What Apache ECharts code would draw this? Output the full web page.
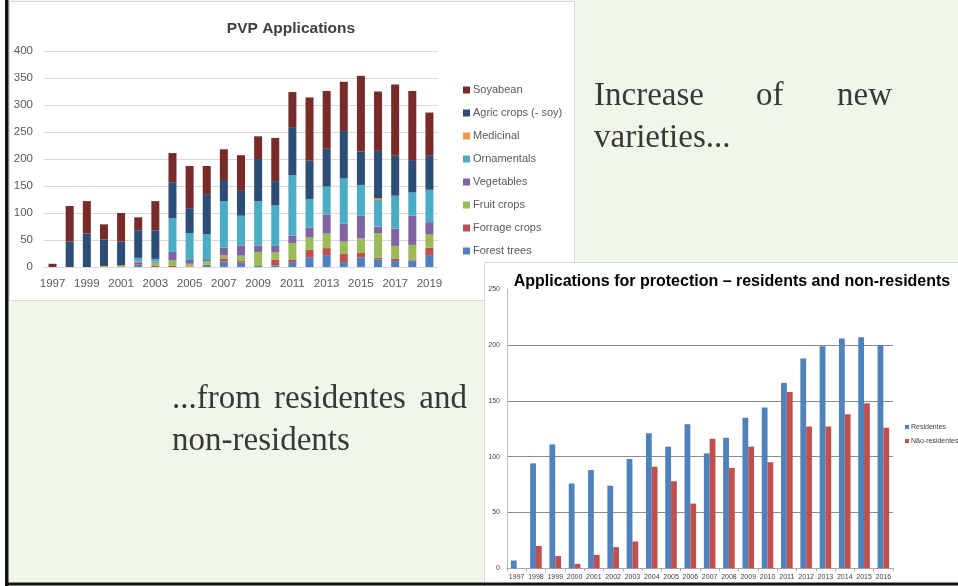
<!DOCTYPE html>
<html><head><meta charset="utf-8">
<script src="https://cdn.jsdelivr.net/npm/echarts@6/dist/echarts.min.js"></script>
<style>html,body{margin:0;padding:0;background:#fff}#c{width:958px;height:586px}</style>
</head><body><div id="c"></div>
<script>
// ---- Chart 1: PVP Applications (stacked) ----
const years1 = ['1997','1998','1999','2000','2001','2002','2003','2004','2005','2006','2007','2008','2009','2010','2011','2012','2013','2014','2015','2016','2017','2018','2019'];
const forestTrees  = [0,0,0,0,0,5,0,0,0,4,10,8,2,3,9,18,22,9,18,14,11,12,22];
const forrageCrops = [0,0,0,0,0,3,2,2,1,0,6,3,0,11,4,14,13,15,8,3,5,2,14];
const fruitCrops   = [0,0,0,2,3,0,6,10,5,7,6,10,26,13,31,23,27,23,27,46,23,27,24];
const vegetables   = [0,0,0,0,0,2,2,16,7,2,14,19,12,12,14,18,35,33,42,12,32,54,23];
const ornamentals  = [0,0,0,0,0,7,5,62,50,48,86,55,82,75,112,53,52,84,57,49,61,43,60];
const medicinal    = [0,0,0,0,0,0,0,0,0,0,0,0,0,0,0,0,0,0,0,3,0,0,0];
const agricCrops   = [0,47,62,49,44,51,53,67,46,74,39,46,78,45,89,71,70,88,62,88,74,60,63];
const soyabean     = [6,66,60,28,53,24,54,54,78,52,57,66,42,80,65,117,107,91,140,110,132,128,80];
const yTicks1 = [0,50,100,150,200,250,300,350,400];

// ---- Chart 2: residents / non-residents ----
const years2 = ['1997','1998','1999','2000','2001','2002','2003','2004','2005','2006','2007','2008','2009','2010','2011','2012','2013','2014','2015','2016'];
const residentes    = [7,94,111,76,88,74,98,121,109,129,103,117,135,144,166,188,199,206,207,200];
const naoResidentes = [0,20,11,4,12,19,24,91,78,58,116,90,109,95,158,127,127,138,148,126];
const yTicks2 = [0,50,100,150,200,250];

const chart = echarts.init(document.getElementById('c'), null, {renderer:'canvas'});
const sansF = '"Liberation Sans", Arial, sans-serif';
const serifF = '"Liberation Serif", "Times New Roman", serif';

const s1 = [
  ['Forest trees', forestTrees, '#4F81BD'],
  ['Forrage crops', forrageCrops, '#C0504D'],
  ['Fruit crops', fruitCrops, '#9BBB59'],
  ['Vegetables', vegetables, '#8064A2'],
  ['Ornamentals', ornamentals, '#4BACC6'],
  ['Medicinal', medicinal, '#F79646'],
  ['Agric crops (- soy)', agricCrops, '#2C4D75'],
  ['Soyabean', soyabean, '#772C2A']
].map(([name, data, color]) => ({
  name, type:'bar', stack:'pvp', data, xAxisIndex:0, yAxisIndex:0,
  barWidth:8, itemStyle:{color}, emphasis:{disabled:true}
}));

const txt = (text, x, y, align) => ({
  type:'text', x, y, z:5,
  style:{text, fill:'#383838', font:'33px ' + serifF, textAlign:align||'left', textVerticalAlign:'middle'}
});

const option = {
  animation:false,
  backgroundColor:'#ffffff',
  textStyle:{fontFamily:sansF},
  graphic:{elements:[
    {type:'rect', shape:{x:8, y:0, width:950, height:583}, style:{fill:'#f0f6e9'}, z:-20},
    {type:'rect', shape:{x:9.5, y:1.5, width:565, height:299}, style:{fill:'#ffffff', stroke:'#d9d9d9', lineWidth:1}, z:-19},
    {type:'rect', shape:{x:484.5, y:262.5, width:480, height:330}, style:{fill:'#ffffff', stroke:'#d9d9d9', lineWidth:1}, z:-18},
    {type:'rect', shape:{x:5, y:0, width:3.5, height:586}, style:{fill:'#111'}, z:10},
    {type:'rect', shape:{x:5, y:582.5, width:953, height:3}, style:{fill:'#111'}, z:10},
    txt('Increase', 594, 96),
    txt('of', 756, 96),
    txt('new', 892, 96, 'right'),
    txt('varieties...', 594, 138),
    txt('...from', 172, 399.5),
    txt('residentes', 274, 399.5),
    txt('and', 467, 399.5, 'right'),
    txt('non-residents', 172, 441.5)
  ]},
  title:[
    {text:'PVP Applications', left:286, top:16, textAlign:'center',
     textStyle:{fontSize:15.5, fontWeight:'bold', color:'#404040', fontFamily:sansF}},
    {text:'Applications for protection \u2013 residents and non-residents', left:727, top:269, textAlign:'center',
     textStyle:{fontSize:16, fontWeight:'bold', color:'#000', fontFamily:sansF}}
  ],
  legend:[
    {data:['Soyabean','Agric crops (- soy)','Medicinal','Ornamentals','Vegetables','Fruit crops','Forrage crops','Forest trees'],
     orient:'vertical', left:458, top:78, itemWidth:7, itemHeight:7, itemGap:9, icon:'rect',
     selectedMode:false,
     textStyle:{fontSize:11, color:'#595959', lineHeight:14, fontFamily:sansF, padding:[0,0,0,-2]}},
    {data:['Residentes','N\u00e3o-residentes'],
     orient:'vertical', left:900, top:418, itemWidth:4, itemHeight:4, itemGap:6, icon:'rect',
     selectedMode:false,
     textStyle:{fontSize:7, color:'#404040', lineHeight:8, fontFamily:sansF, padding:[0,0,0,-3]}}
  ],
  grid:[
    {left:44, top:51, width:394, height:216},
    {left:507, top:289.3, width:386, height:279}
  ],
  xAxis:[
    {type:'category', gridIndex:0, data:years1,
     axisLine:{lineStyle:{color:'#d9d9d9'}}, axisTick:{show:false},
     axisLabel:{interval:1, fontSize:11.5, color:'#595959', margin:11}},
    {type:'category', gridIndex:1, data:years2,
     axisLine:{lineStyle:{color:'#aaaaaa'}}, axisTick:{show:true, length:3, lineStyle:{color:'#aaaaaa'}},
     axisLabel:{interval:0, fontSize:7, color:'#404040', margin:5}}
  ],
  yAxis:[
    {type:'value', gridIndex:0, min:yTicks1[0], max:yTicks1[yTicks1.length-1], interval:50,
     axisLine:{show:false}, axisTick:{show:false},
     splitLine:{lineStyle:{color:'#d9d9d9', width:1}},
     axisLabel:{fontSize:11.5, color:'#595959', margin:11}},
    {type:'value', gridIndex:1, min:yTicks2[0], max:yTicks2[yTicks2.length-1], interval:50,
     axisLine:{show:true, lineStyle:{color:'#bbbbbb'}}, axisTick:{show:false},
     splitLine:{lineStyle:{color:['#8c8c8c','#8c8c8c','#8c8c8c','#8c8c8c','#8c8c8c','rgba(0,0,0,0)'], width:1}},
     axisLabel:{fontSize:7, color:'#404040', margin:7}}
  ],
  series: s1.concat([
    {name:'Residentes', type:'bar', xAxisIndex:1, yAxisIndex:1, data:residentes,
     barWidth:5.8, barGap:'0%', itemStyle:{color:'#4F81BD'}},
    {name:'N\u00e3o-residentes', type:'bar', xAxisIndex:1, yAxisIndex:1, data:naoResidentes,
     barWidth:5.8, barGap:'0%', itemStyle:{color:'#C0504D'}}
  ])
};
chart.setOption(option);
</script></body></html>
